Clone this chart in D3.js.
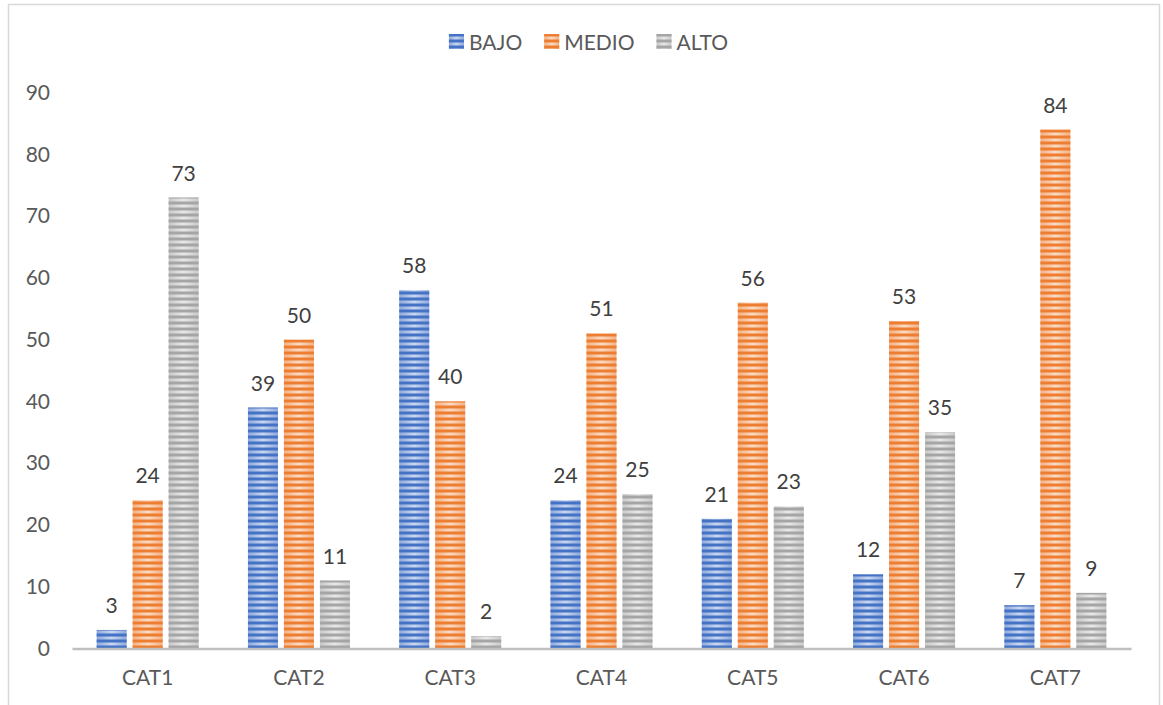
<!DOCTYPE html>
<html><head><meta charset="utf-8">
<script src="https://cdn.jsdelivr.net/npm/d3@7"></script>
<style>
html,body{margin:0;padding:0;background:#fff;}
svg{display:block;font-family:Lato,"Open Sans",sans-serif;}
</style></head>
<body><svg id="chart" width="1163" height="705"></svg>
<script>
const categories = ["CAT1","CAT2","CAT3","CAT4","CAT5","CAT6","CAT7"];
const seriesNames = ["BAJO","MEDIO","ALTO"];
const bajo  = [3, 39, 58, 24, 21, 12, 7];
const medio = [24, 50, 40, 51, 56, 53, 84];
const alto  = [73, 11, 2, 25, 23, 35, 9];
const yTicks = [0,10,20,30,40,50,60,70,80,90];

const values = {BAJO: bajo, MEDIO: medio, ALTO: alto};
const colors = {BAJO:"#4472C4", MEDIO:"#ED7D31", ALTO:"#A5A5A5"};
const lightEdge = {BAJO:"#8FAADC", MEDIO:"#F4B183", ALTO:"#C9C9C9"};
const lightMid = {BAJO:"#C9D6F0", MEDIO:"#FADBC4", ALTO:"#E8E8E8"};

const svg = d3.select("#chart");
const mLeft = 72, mRight = 1131, mTop = 92.5, mBottom = 648.5;

const defs = svg.append("defs");
seriesNames.forEach(s => {
  const g = defs.append("linearGradient").attr("id","grad-"+s).attr("x1","0").attr("x2","1").attr("y1","0").attr("y2","0");
  g.append("stop").attr("offset","0").attr("stop-color",lightEdge[s]);
  g.append("stop").attr("offset","0.5").attr("stop-color",lightMid[s]);
  g.append("stop").attr("offset","1").attr("stop-color",lightEdge[s]);
  const p = defs.append("pattern").attr("id","pat-"+s).attr("patternUnits","userSpaceOnUse")
    .attr("x",0).attr("y",mBottom).attr("width",8).attr("height",6);
  p.append("rect").attr("x",0).attr("y",3).attr("width",8).attr("height",3).attr("fill",colors[s]);
});

// chart border
svg.append("rect").attr("x",8.5).attr("y",4.5).attr("width",1151).attr("height",720)
  .attr("fill","none").attr("stroke","#d9d9d9").attr("stroke-width",1.5);

const x0 = d3.scaleBand().domain(categories).range([mLeft,mRight]).paddingInner(0.326).paddingOuter(0.163);
const x1 = d3.scaleBand().domain(seriesNames).range([0,x0.bandwidth()]).paddingInner(0.1667);
const y = d3.scaleLinear().domain([0,90]).range([mBottom,mTop]);

// y axis labels
const yAxis = svg.append("g").attr("transform",`translate(${mLeft},0)`)
  .call(d3.axisLeft(y).tickValues(yTicks).tickSize(0).tickPadding(22));
yAxis.select(".domain").remove();
yAxis.selectAll("text").attr("font-size",21).attr("fill","#595959").attr("font-family","Lato,'Open Sans',sans-serif");

// bars
const groups = svg.append("g").selectAll("g").data(categories).join("g")
  .attr("transform", c => `translate(${x0(c)},0)`);
seriesNames.forEach(s => {
  groups.each(function(c,i){
    const g = d3.select(this);
    const v = values[s][i];
    g.append("rect").attr("x",x1(s)).attr("y",y(v)).attr("width",x1.bandwidth()).attr("height",y(0)-y(v))
      .attr("fill",`url(#grad-${s})`);
    g.append("rect").attr("x",x1(s)).attr("y",y(v)).attr("width",x1.bandwidth()).attr("height",y(0)-y(v))
      .attr("fill",`url(#pat-${s})`);
    g.append("text").attr("x",x1(s)+x1.bandwidth()/2).attr("y",y(v)-17)
      .attr("text-anchor","middle").attr("font-size",21).attr("fill","#404040").text(v);
  });
});

// x axis
const xAxis = svg.append("g").attr("transform",`translate(0,${mBottom})`)
  .call(d3.axisBottom(x0).tickSize(0).tickPadding(22));
xAxis.select(".domain").attr("stroke","#bfbfbf").attr("stroke-width",2.5);
xAxis.selectAll("text").attr("font-size",21).attr("fill","#595959").attr("font-family","Lato,'Open Sans',sans-serif");

// legend
const legend = svg.append("g");
let cx = 0;
seriesNames.forEach(s => {
  const it = legend.append("g").attr("transform",`translate(${cx},0)`);
  it.append("rect").attr("x",0).attr("y",-8).attr("width",15).attr("height",15).attr("fill",`url(#grad-${s})`);
  it.append("rect").attr("x",0).attr("y",-8).attr("width",15).attr("height",15).attr("fill",`url(#pat-${s})`).attr("transform","translate(0,0)");
  const t = it.append("text").attr("x",20).attr("y",7.5).attr("font-size",21).attr("fill","#595959").text(s);
  cx += 20 + t.node().getComputedTextLength() + 22;
});
const legW = cx - 22;
legend.attr("transform",`translate(${588.5 - legW/2},42)`);
</script></body></html>
